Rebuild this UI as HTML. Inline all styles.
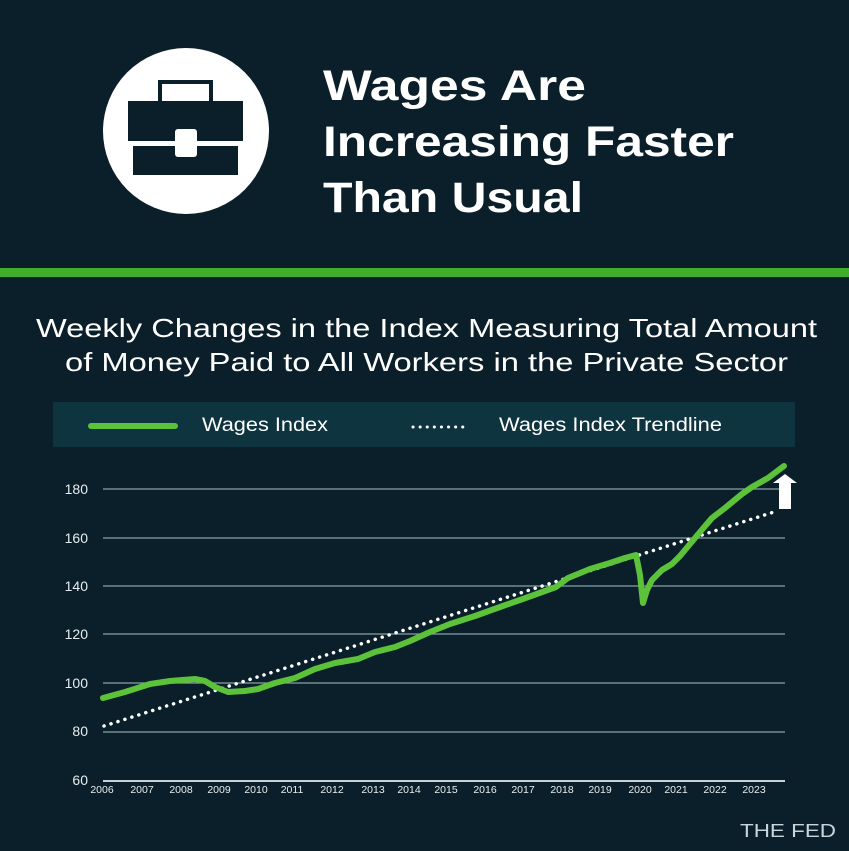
<!DOCTYPE html>
<html><head><meta charset="utf-8"><style>
html,body{margin:0;padding:0;background:#0a1f29;}
body{width:849px;height:851px;position:relative;overflow:hidden;font-family:"Liberation Sans",sans-serif;}
</style></head><body>
<svg width="849" height="851" viewBox="0 0 849 851" xmlns="http://www.w3.org/2000/svg" style="position:absolute;left:0;top:0">
<rect width="849" height="851" fill="#0a1f29"/>
<rect x="0" y="268" width="849" height="9" fill="#3fae2a"/>
<circle cx="186" cy="131" r="83" fill="#ffffff"/>
<rect x="160" y="82" width="51" height="21" fill="none" stroke="#0a1f29" stroke-width="4"/>
<rect x="128" y="101" width="115" height="40" fill="#0a1f29"/>
<rect x="133" y="146" width="105" height="29" fill="#0a1f29"/>
<rect x="175" y="129" width="22" height="28" rx="3" fill="#ffffff"/>
<g fill="#ffffff" font-weight="bold" font-size="43" font-family="Liberation Sans, sans-serif" lengthAdjust="spacingAndGlyphs">
<text x="323" y="100" textLength="263" lengthAdjust="spacingAndGlyphs">Wages Are</text>
<text x="323" y="156" textLength="411" lengthAdjust="spacingAndGlyphs">Increasing Faster</text>
<text x="323" y="212" textLength="260" lengthAdjust="spacingAndGlyphs">Than Usual</text>
</g>
<g fill="#ffffff" font-size="26">
<text x="36" y="337" textLength="781" lengthAdjust="spacingAndGlyphs">Weekly Changes in the Index Measuring Total Amount</text>
<text x="65" y="371" textLength="723" lengthAdjust="spacingAndGlyphs">of Money Paid to All Workers in the Private Sector</text>
</g>
<rect x="53" y="402" width="742" height="45" fill="#0e3440"/>
<line x1="91" y1="426" x2="175" y2="426" stroke="#5cc23a" stroke-width="6" stroke-linecap="round"/>
<text x="202" y="431" fill="#fff" font-size="19" textLength="126" lengthAdjust="spacingAndGlyphs">Wages Index</text>
<line x1="413" y1="427" x2="468" y2="427" stroke="#fff" stroke-width="3" stroke-dasharray="0.1 7" stroke-linecap="round"/>
<text x="499" y="431" fill="#fff" font-size="19" textLength="223" lengthAdjust="spacingAndGlyphs">Wages Index Trendline</text>
<g stroke="#8aa0a8" stroke-width="1.2">
<line x1="103" y1="489" x2="785" y2="489"/>
<line x1="103" y1="538" x2="785" y2="538"/>
<line x1="103" y1="586" x2="785" y2="586"/>
<line x1="103" y1="634" x2="785" y2="634"/>
<line x1="103" y1="683" x2="785" y2="683"/>
<line x1="103" y1="732" x2="785" y2="732"/>
</g>
<line x1="103" y1="781" x2="785" y2="781" stroke="#c8d2d6" stroke-width="2"/>
<g fill="#e8eef0" font-size="14">
<text x="88" y="494" text-anchor="end">180</text>
<text x="88" y="543" text-anchor="end">160</text>
<text x="88" y="591" text-anchor="end">140</text>
<text x="88" y="639" text-anchor="end">120</text>
<text x="88" y="688" text-anchor="end">100</text>
<text x="88" y="736" text-anchor="end">80</text>
<text x="88" y="785" text-anchor="end">60</text>
</g>
<g fill="#e8eef0" font-size="10.5" text-anchor="middle">
<text x="102" y="793">2006</text><text x="142" y="793">2007</text><text x="181" y="793">2008</text>
<text x="219" y="793">2009</text><text x="256" y="793">2010</text><text x="292" y="793">2011</text>
<text x="332" y="793">2012</text><text x="373" y="793">2013</text><text x="409" y="793">2014</text>
<text x="446" y="793">2015</text><text x="485" y="793">2016</text><text x="523" y="793">2017</text>
<text x="562" y="793">2018</text><text x="600" y="793">2019</text><text x="640" y="793">2020</text>
<text x="676" y="793">2021</text><text x="715" y="793">2022</text><text x="754" y="793">2023</text>
</g>
<line x1="104" y1="726" x2="777" y2="511" stroke="#fff" stroke-width="3.5" stroke-dasharray="0.1 7.2" stroke-linecap="round"/>
<polyline fill="none" stroke="#5cc23a" stroke-width="6" stroke-linejoin="round" stroke-linecap="round"
points="103,698 125,692 150,684 170,681 195,679 205,681 215,687 228,692 245,691 258,689 275,683 295,678 315,669 335,663 358,659 375,652 395,647 410,641 430,632 450,624 475,616 500,607 520,600 545,591 556,587 568,578 590,569 610,563 625,558 636,555 640,575 643,603 647,590 652,580 662,570 672,564 680,556 690,544 700,532 712,518 725,508 742,494 752,487 768,478 784,466"/>
<polygon points="785,474 797,483 791,483 791,509 779,509 779,483 773,483" fill="#ffffff"/>
<text x="740" y="837" fill="#c8d6dc" font-size="18" textLength="96" lengthAdjust="spacingAndGlyphs">THE FED</text>
</svg>
</body></html>
